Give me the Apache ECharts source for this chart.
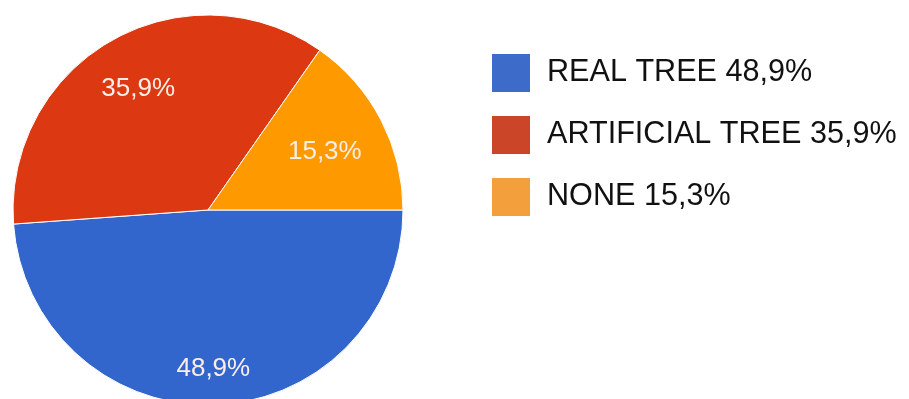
<!DOCTYPE html>
<html>
<head>
<meta charset="utf-8">
<script src="https://cdn.jsdelivr.net/npm/echarts@6/dist/echarts.min.js"></script>
<style>
  html, body { margin: 0; padding: 0; background: #fff; }
  #chart { width: 909px; height: 399px; }
</style>
</head>
<body>
<div id="chart"></div>
<script>
// Survey answers: kind of Christmas tree at home (percent)
const categories = ['REAL TREE', 'ARTIFICIAL TREE', 'NONE'];
const shares = [48.9, 35.9, 15.3];

const sliceColors = ['#3366cc', '#dc3912', '#ff9900'];
const legendColors = ['#3d6bca', '#cb4628', '#f3a03c'];
// small nudges so each percentage sits comfortably inside its slice
const labelNudges = [[0, 11], [3, 7], [-14, 10]];

const fmt = v => v.toFixed(1).replace('.', ',') + '%';

const CENTER = [208, 210];
const RADIUS = 195;

const chart = echarts.init(document.getElementById('chart'), null, { renderer: 'canvas' });

chart.setOption({
  animation: false,
  backgroundColor: '#ffffff',
  legend: {
    orient: 'vertical',
    left: 490,
    top: 52,
    padding: 0,
    itemWidth: 40,
    itemHeight: 40,
    itemGap: 20,
    icon: 'rect',
    data: categories.map((name, i) => ({
      name: name,
      itemStyle: { color: legendColors[i] }
    })),
    formatter: name => name + ' ' + fmt(shares[categories.indexOf(name)]),
    textStyle: {
      fontFamily: 'Liberation Sans, Arial, sans-serif',
      fontSize: 30.6,
      color: '#111',
      padding: [0, 0, 0, 11]
    }
  },
  series: [
    {
      type: 'pie',
      center: CENTER,
      radius: [0, RADIUS],
      startAngle: 0,
      clockwise: true,
      label: { show: false },
      labelLine: { show: false },
      itemStyle: { borderColor: '#ffffff', borderWidth: 1 },
      emphasis: { disabled: true },
      data: categories.map((name, i) => ({
        name: name,
        value: shares[i],
        itemStyle: { color: sliceColors[i] }
      }))
    },
    {
      // transparent ring used only to place the percentage labels
      type: 'pie',
      center: CENTER,
      radius: [94, RADIUS],
      startAngle: 0,
      clockwise: true,
      silent: true,
      itemStyle: { color: 'rgba(0,0,0,0)' },
      label: {
        show: true,
        position: 'inside',
        formatter: p => fmt(p.value),
        fontFamily: 'Liberation Sans, Arial, sans-serif',
        fontSize: 26,
        color: '#fbeee8'
      },
      labelLine: { show: false },
      emphasis: { disabled: true },
      data: categories.map((name, i) => ({
        name: name,
        value: shares[i],
        label: { offset: labelNudges[i] }
      }))
    }
  ]
});
</script>
</body>
</html>
